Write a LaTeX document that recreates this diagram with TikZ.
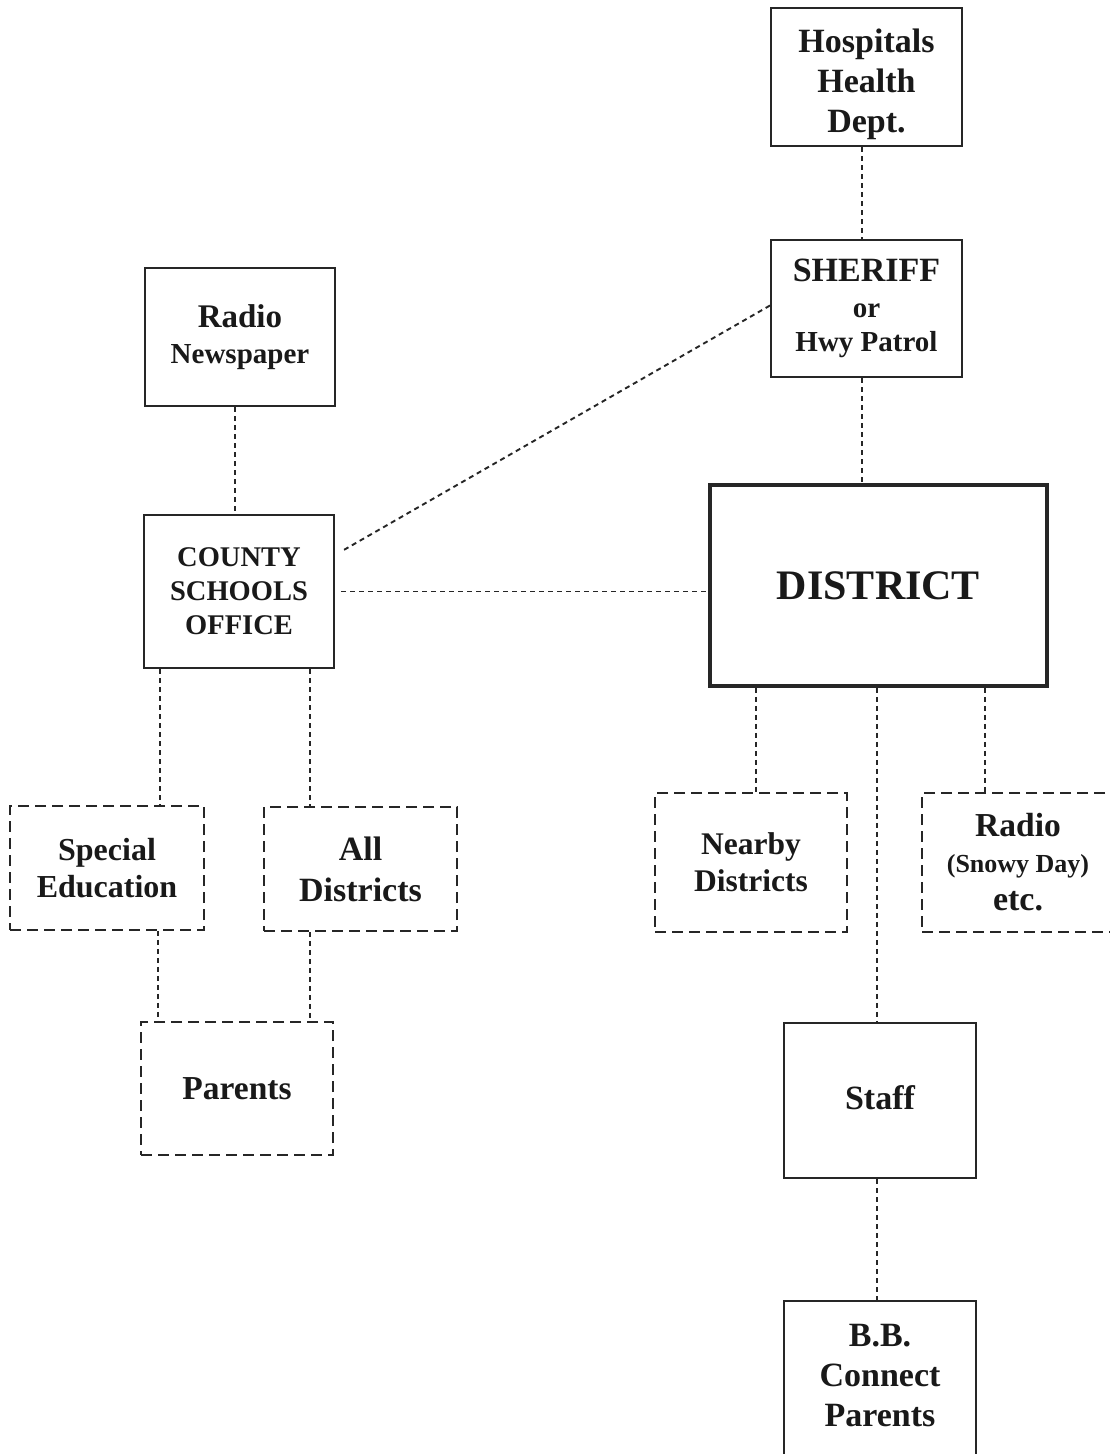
\documentclass[tikz,border=0pt]{standalone}
\usepackage{fontspec}
\setmainfont{Liberation Serif}
\usetikzlibrary{calc}
\newcommand{\fs}[2]{\fontsize{#1}{#2}\selectfont}
\begin{document}
\begin{tikzpicture}[x=1pt,y=-1pt,
  box/.style={draw=black!85, line width=2pt, inner sep=0pt, align=center, text=black!90, font=\bfseries\fs{34}{40}},
  dbox/.style={box, line width=1.8pt, dash pattern=on 11pt off 6pt},
  txt/.style={inner sep=0pt, align=center, text=black!90, font=\bfseries\fs{34}{40}},
  conn/.style={draw=black!85, line width=1.9pt, dash pattern=on 5pt off 4pt}]
\useasboundingbox (0,0) rectangle (1109,1454);
\fill[white] (0,0) rectangle (1109,1454);

\node[box, minimum width=191pt, minimum height=138pt] (hosp) at (866.5,77) {};
\node[txt] (hospt) at ($(hosp.center)+(0,7)$) {Hospitals\\Health\\Dept.};
\node[box, minimum width=191pt, minimum height=137pt] (sher) at (866.5,308.5) {SHERIFF\\[-4pt]{\fs{29}{34}or}\\[-6pt]{\fs{29}{34}Hwy Patrol}};
\node[box, minimum width=190pt, minimum height=138pt] (radio) at (240,337) {{\fs{33}{36}Radio}\\[-4pt]{\fs{29}{36}Newspaper}};
\node[box, minimum width=190pt, minimum height=153pt, font=\bfseries\fs{28.5}{34}] (county) at (239,591.5) {COUNTY\\SCHOOLS\\OFFICE};
\node[box, line width=3.5pt, minimum width=337pt, minimum height=201pt, font=\bfseries\fs{42}{48}] (dist) at (878.5,585.5) {DISTRICT};

\node[dbox, minimum width=194pt, minimum height=124pt, font=\bfseries\fs{32}{37}] (spec) at (107,868) {Special\\Education};
\node[dbox, minimum width=193pt, minimum height=124pt, font=\bfseries\fs{34}{41}] (all) at (360.5,869) {All\\Districts};
\node[dbox, minimum width=192pt, minimum height=139pt, font=\bfseries\fs{31.5}{37}] (near) at (751,862.5) {Nearby\\Districts};
\node[dbox, minimum width=192pt, minimum height=139pt] (radio2) at (1018,862.5) {{\fs{33.5}{36}Radio}\\[-4pt]{\fs{26}{34}(Snowy Day)}\\[-2pt]{\fs{34}{36}etc.}};
\node[dbox, minimum width=192pt, minimum height=133pt, font=\bfseries\fs{33.5}{40}] (par) at (237,1088.5) {Parents};

\node[box, minimum width=192pt, minimum height=155pt] (staff) at (880,1100.5) {};
\node[txt] (stafft) at ($(staff.center)+(0,-3)$) {Staff};
\node[box, minimum width=192pt, minimum height=155pt] (bb) at (880,1378.5) {};
\node[txt] (bbt) at ($(bb.center)+(0,-3)$) {B.B.\\Connect\\Parents};

\draw[conn] (hosp.south -| 862,0) -- (sher.north -| 862,0);
\draw[conn] (sher.south -| 862,0) -- (dist.north -| 862,0);
\draw[conn] ($(sher.west)+(0,-3)$) -- ($(county.north east)+(7,37)$);
\draw[conn] ($(county.east)+(6,0)$) -- (dist.west |- county.east);
\draw[conn] (radio.south -| 235,0) -- (county.north -| 235,0);
\draw[conn] (county.south -| 160,0) -- (spec.north -| 160,0);
\draw[conn] (county.south -| 310,0) -- (all.north -| 310,0);
\draw[conn] (spec.south -| 158,0) -- (par.north -| 158,0);
\draw[conn] (all.south -| 310,0) -- (par.north -| 310,0);
\draw[conn] (dist.south -| 756,0) -- (near.north -| 756,0);
\draw[conn] (dist.south -| 985,0) -- (radio2.north -| 985,0);
\draw[conn] (dist.south -| 877,0) -- (staff.north -| 877,0);
\draw[conn] (staff.south -| 877,0) -- (bb.north -| 877,0);
\end{tikzpicture}
\end{document}
